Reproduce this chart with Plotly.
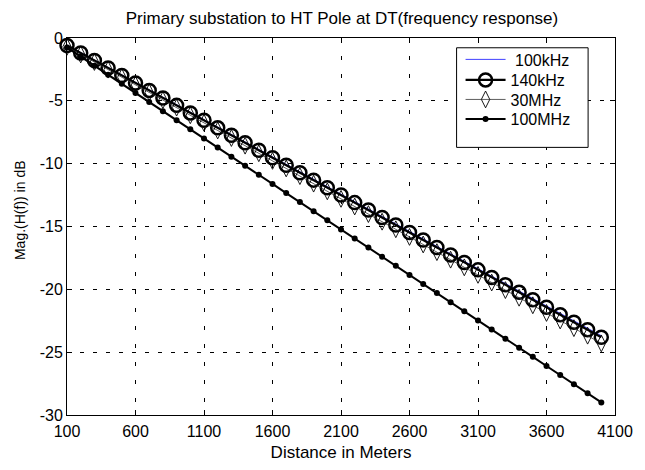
import plotly.graph_objects as go

distance = [100, 200, 300, 400, 500, 600, 700, 800, 900, 1000,
            1100, 1200, 1300, 1400, 1500, 1600, 1700, 1800, 1900, 2000,
            2100, 2200, 2300, 2400, 2500, 2600, 2700, 2800, 2900, 3000,
            3100, 3200, 3300, 3400, 3500, 3600, 3700, 3800, 3900, 4000]

mag_100khz = [-0.57, -1.16, -1.76, -2.35, -2.94, -3.54, -4.13, -4.72, -5.31, -5.91,
              -6.50, -7.09, -7.69, -8.28, -8.87, -9.46, -10.06, -10.65, -11.24, -11.84,
              -12.43, -13.02, -13.61, -14.21, -14.80, -15.39, -15.99, -16.58, -17.17, -17.76,
              -18.36, -18.95, -19.54, -20.14, -20.73, -21.32, -21.91, -22.51, -23.10, -23.69]

mag_140khz = [-0.60, -1.20, -1.79, -2.39, -2.98, -3.58, -4.17, -4.77, -5.36, -5.96,
              -6.55, -7.15, -7.74, -8.34, -8.93, -9.53, -10.12, -10.72, -11.31, -11.91,
              -12.50, -13.10, -13.69, -14.29, -14.88, -15.48, -16.07, -16.67, -17.26, -17.86,
              -18.45, -19.05, -19.64, -20.24, -20.83, -21.43, -22.02, -22.62, -23.21, -23.81]

mag_30mhz = [-0.70, -1.31, -1.91, -2.52, -3.12, -3.73, -4.33, -4.94, -5.54, -6.15,
             -6.75, -7.36, -7.96, -8.57, -9.17, -9.78, -10.38, -10.99, -11.59, -12.20,
             -12.80, -13.41, -14.01, -14.62, -15.22, -15.83, -16.43, -17.04, -17.64, -18.25,
             -18.85, -19.46, -20.06, -20.67, -21.27, -21.88, -22.48, -23.09, -23.69, -24.30]

mag_100mhz = [-0.75, -1.47, -2.20, -2.92, -3.65, -4.37, -5.09, -5.82, -6.54, -7.27,
              -7.99, -8.72, -9.44, -10.16, -10.89, -11.61, -12.34, -13.06, -13.79, -14.51,
              -15.23, -15.96, -16.68, -17.41, -18.13, -18.86, -19.58, -20.30, -21.03, -21.75,
              -22.48, -23.20, -23.93, -24.65, -25.37, -26.10, -26.82, -27.55, -28.27, -29.00]

x_ticks = [100, 600, 1100, 1600, 2100, 2600, 3100, 3600, 4100]
y_ticks = [-30, -25, -20, -15, -10, -5, 0]

FONT = "Liberation Sans, Arial, sans-serif"

L, R, T, B = 67, 617, 38, 424
W, H = 645, 470
pw, ph = R - L, B - T

def px_x(p):
    return (p - L) / pw

def px_y(p):
    return (B - p) / ph

fig = go.Figure()

fig.add_trace(go.Scatter(
    x=distance, y=mag_100khz, mode="lines", name="\u00a0100kHz", legend="legend",
    line=dict(color="#4040ff", width=1), cliponaxis=False))

fig.add_trace(go.Scatter(
    x=distance, y=mag_140khz, mode="lines+markers", name="140kHz", legend="legend2",
    line=dict(color="black", width=2.2),
    marker=dict(symbol="circle-open", size=13, color="black",
                line=dict(color="black", width=2.5)),
    cliponaxis=False))

fig.add_trace(go.Scatter(
    x=distance, y=mag_30mhz, mode="lines+markers", name="30MHz", legend="legend3",
    line=dict(color="#333333", width=0.8),
    marker=dict(symbol="diamond-tall-open", size=12, color="black",
                line=dict(color="black", width=0.9)),
    cliponaxis=False))

fig.add_trace(go.Scatter(
    x=distance, y=mag_100mhz, mode="lines+markers", name="100MHz", legend="legend4",
    line=dict(color="black", width=2),
    marker=dict(symbol="circle", size=6, color="black"),
    cliponaxis=False))

fig.add_shape(type="rect", xref="paper", yref="paper",
              x0=px_x(458), x1=px_x(590), y0=px_y(150), y1=px_y(48),
              line=dict(color="black", width=1), fillcolor="white", layer="above")

fig.add_annotation(text="Mag.(H(f)) in dB", xref="paper", yref="paper",
                   x=px_x(20), y=px_y(214), xanchor="center", yanchor="middle",
                   textangle=-90, showarrow=False,
                   font=dict(family=FONT, size=14, color="black"))

legend_rows = [60, 81, 101, 121]

def leg(row_y):
    return dict(x=px_x(462), y=px_y(row_y), xanchor="left", yanchor="middle",
                bgcolor="rgba(0,0,0,0)", borderwidth=0,
                font=dict(family=FONT, size=16, color="black"),
                itemwidth=40)

fig.update_layout(
    width=W, height=H,
    margin=dict(l=L, r=W - R, t=T, b=H - B),
    paper_bgcolor="white", plot_bgcolor="white",
    font=dict(family=FONT, size=16, color="black"),
    title=dict(text="Primary substation to HT Pole at DT(frequency response)",
               x=(L + R) / 2 / W, xanchor="center", y=1 - 18 / H, yanchor="middle",
               font=dict(family=FONT, size=17, color="black")),
    showlegend=True,
    legend=leg(legend_rows[0]),
    legend2=leg(legend_rows[1]),
    legend3=leg(legend_rows[2]),
    legend4=leg(legend_rows[3]),
)

fig.update_xaxes(
    range=[100, 4100], tickvals=x_ticks, ticktext=[str(v) for v in x_ticks],
    showgrid=True, gridcolor="black", gridwidth=1, griddash="4px,14px",
    showline=True, linecolor="black", linewidth=1, mirror="allticks",
    ticks="inside", ticklen=5, tickcolor="black", zeroline=False,
    ticklabelstandoff=2,
    tickfont=dict(family=FONT, size=16, color="black"),
    title=dict(text="Distance in Meters", standoff=6,
               font=dict(family=FONT, size=17, color="black")),
)

fig.update_yaxes(
    range=[-30, 0], tickvals=y_ticks, ticktext=[str(v) for v in y_ticks],
    showgrid=True, gridcolor="black", gridwidth=1, griddash="4px,9px",
    showline=True, linecolor="black", linewidth=1, mirror="allticks",
    ticks="inside", ticklen=5, tickcolor="black", zeroline=False,
    tickfont=dict(family=FONT, size=16, color="black"),
)

fig.write_html("out.html")
